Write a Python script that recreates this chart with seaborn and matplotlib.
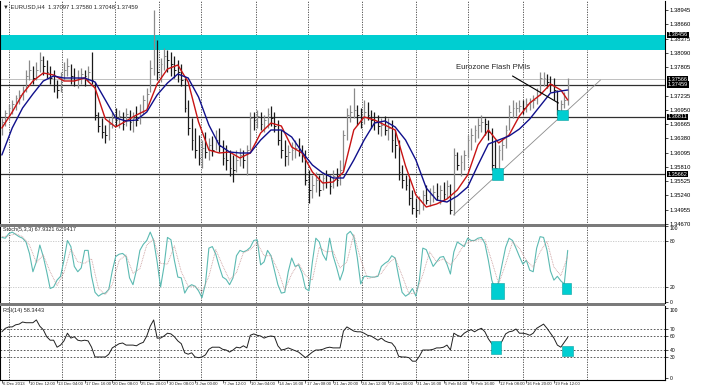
"""
EURUSD H4 chart with two moving averages, Stochastic(5,3,3) and RSI(14),
redrawn from a MetaTrader screenshot.
"""
import numpy as np
import matplotlib
matplotlib.use('Agg')
import matplotlib.pyplot as plt
from matplotlib.patches import Rectangle
import matplotlib.transforms as mtransforms
import seaborn as sns

# --- price bars (one entry per two H4 candles) ---
highs = [
    1.3679, 1.3695, 1.3707, 1.3715, 1.3725, 1.3735, 1.3743, 1.3775, 1.3795, 1.3783,
    1.3791, 1.3811, 1.3803, 1.3795, 1.3783, 1.3775, 1.3755, 1.3771, 1.3791, 1.3799,
    1.3787, 1.3779, 1.3775, 1.3779, 1.3775, 1.3783, 1.3811, 1.3751, 1.3691, 1.3679,
    1.3665, 1.3679, 1.3691, 1.3699, 1.3695, 1.3691, 1.3699, 1.3695, 1.3691, 1.3703,
    1.3707, 1.3725, 1.3739, 1.3795, 1.3895, 1.3835, 1.3799, 1.3819, 1.3815, 1.3811,
    1.3803, 1.3795, 1.3787, 1.3759, 1.3715, 1.3679, 1.3659, 1.3645, 1.3635, 1.3651,
    1.3639, 1.3643, 1.3655, 1.3659, 1.3635, 1.3625, 1.3615, 1.3605, 1.3615, 1.3619,
    1.3615, 1.3625, 1.3691, 1.3691, 1.3695, 1.3691, 1.3685, 1.3699, 1.3703, 1.3691,
    1.3675, 1.3655, 1.3635, 1.3625, 1.3631, 1.3635, 1.3639, 1.3625, 1.3615, 1.3575,
    1.3565, 1.3571, 1.3565, 1.3571, 1.3575, 1.3565, 1.3575, 1.3579, 1.3595, 1.3655,
    1.3699, 1.3705, 1.3739, 1.3705, 1.3699, 1.3715, 1.3711, 1.3695, 1.3691, 1.3685,
    1.3679, 1.3683, 1.3679, 1.3675, 1.3655, 1.3635, 1.3585, 1.3565, 1.3559, 1.3535,
    1.3519, 1.3523, 1.3535, 1.3545, 1.3539, 1.3545, 1.3549, 1.3545, 1.3551, 1.3555,
    1.3547, 1.3619, 1.3611, 1.3605, 1.3615, 1.3645, 1.3659, 1.3665, 1.3679, 1.3685,
    1.3679, 1.3675, 1.3659, 1.3635, 1.3625, 1.3639, 1.3665, 1.3705, 1.3715, 1.3711,
    1.3715, 1.3715, 1.3719, 1.3719, 1.3725, 1.3739, 1.3771, 1.3771, 1.3767, 1.3763,
    1.3759, 1.3735, 1.3715, 1.3731, 1.3758]
lows = [
    1.3645, 1.3663, 1.3675, 1.3687, 1.3695, 1.3707, 1.3715, 1.3731, 1.3755, 1.3747,
    1.3755, 1.3771, 1.3765, 1.3759, 1.3747, 1.3731, 1.3719, 1.3731, 1.3755, 1.3763,
    1.3747, 1.3743, 1.3739, 1.3747, 1.3743, 1.3751, 1.3747, 1.3675, 1.3651, 1.3639,
    1.3629, 1.3635, 1.3659, 1.3663, 1.3659, 1.3655, 1.3663, 1.3655, 1.3651, 1.3663,
    1.3667, 1.3687, 1.3699, 1.3731, 1.3765, 1.3755, 1.3751, 1.3775, 1.3771, 1.3763,
    1.3759, 1.3751, 1.3743, 1.3691, 1.3645, 1.3615, 1.3599, 1.3585, 1.3579, 1.3599,
    1.3595, 1.3603, 1.3615, 1.3611, 1.3585, 1.3575, 1.3563, 1.3551, 1.3571, 1.3583,
    1.3579, 1.3565, 1.3615, 1.3655, 1.3659, 1.3655, 1.3651, 1.3659, 1.3663, 1.3651,
    1.3625, 1.3599, 1.3583, 1.3585, 1.3595, 1.3599, 1.3603, 1.3591, 1.3545, 1.3509,
    1.3519, 1.3531, 1.3523, 1.3535, 1.3539, 1.3527, 1.3539, 1.3543, 1.3545, 1.3575,
    1.3635, 1.3671, 1.3679, 1.3665, 1.3659, 1.3667, 1.3675, 1.3659, 1.3655, 1.3647,
    1.3643, 1.3645, 1.3635, 1.3611, 1.3599, 1.3555, 1.3539, 1.3535, 1.3505, 1.3487,
    1.3481, 1.3487, 1.3495, 1.3507, 1.3503, 1.3511, 1.3515, 1.3507, 1.3515, 1.3519,
    1.3487, 1.3485, 1.3575, 1.3563, 1.3575, 1.3599, 1.3615, 1.3631, 1.3639, 1.3651,
    1.3645, 1.3635, 1.3575, 1.3561, 1.3575, 1.3595, 1.3619, 1.3655, 1.3679, 1.3683,
    1.3691, 1.3687, 1.3691, 1.3695, 1.3699, 1.3707, 1.3725, 1.3743, 1.3739, 1.3731,
    1.3715, 1.3685, 1.3679, 1.3699, 1.3705]
closes = [
    1.3671, 1.3689, 1.3699, 1.3707, 1.3719, 1.3725, 1.3735, 1.3763, 1.3775, 1.3759,
    1.3775, 1.3795, 1.3783, 1.3771, 1.3759, 1.3745, 1.3735, 1.3759, 1.3775, 1.3783,
    1.3763, 1.3755, 1.3759, 1.3767, 1.3763, 1.3771, 1.3755, 1.3685, 1.3663, 1.3651,
    1.3645, 1.3667, 1.3679, 1.3675, 1.3683, 1.3667, 1.3687, 1.3671, 1.3679, 1.3675,
    1.3691, 1.3715, 1.3727, 1.3779, 1.3835, 1.3771, 1.3787, 1.3803, 1.3795, 1.3787,
    1.3775, 1.3771, 1.3755, 1.3699, 1.3659, 1.3635, 1.3615, 1.3599, 1.3619, 1.3611,
    1.3625, 1.3615, 1.3635, 1.3623, 1.3599, 1.3595, 1.3579, 1.3575, 1.3595, 1.3605,
    1.3595, 1.3615, 1.3679, 1.3675, 1.3683, 1.3667, 1.3675, 1.3687, 1.3679, 1.3663,
    1.3635, 1.3615, 1.3603, 1.3611, 1.3615, 1.3619, 1.3611, 1.3605, 1.3555, 1.3535,
    1.3545, 1.3555, 1.3535, 1.3559, 1.3551, 1.3543, 1.3563, 1.3555, 1.3575, 1.3645,
    1.3685, 1.3691, 1.3695, 1.3685, 1.3679, 1.3691, 1.3685, 1.3675, 1.3671, 1.3663,
    1.3665, 1.3655, 1.3659, 1.3635, 1.3625, 1.3571, 1.3555, 1.3545, 1.3519, 1.3499,
    1.3495, 1.3515, 1.3525, 1.3515, 1.3525, 1.3531, 1.3523, 1.3535, 1.3527, 1.3543,
    1.3495, 1.3605, 1.3585, 1.3591, 1.3605, 1.3635, 1.3645, 1.3655, 1.3665, 1.3671,
    1.3667, 1.3651, 1.3585, 1.3579, 1.3615, 1.3625, 1.3655, 1.3691, 1.3699, 1.3699,
    1.3703, 1.3699, 1.3707, 1.3711, 1.3715, 1.3725, 1.3759, 1.3759, 1.3751, 1.3747,
    1.3735, 1.3695, 1.3707, 1.3715, 1.37459]

# moving averages, read every third bar
ma_bars = list(range(0, 163, 3)) + [164]
ma_fast = [
    1.3659, 1.3691, 1.3727, 1.3753, 1.3769, 1.3765, 1.3753, 1.3753, 1.3759, 1.3739,
    1.3677, 1.3661, 1.3673, 1.3685, 1.3695, 1.3747, 1.3777, 1.3785, 1.3751, 1.3671,
    1.3615, 1.3609, 1.3611, 1.3599, 1.3609, 1.3649, 1.3669, 1.3663, 1.3621, 1.3609,
    1.3571, 1.3549, 1.3551, 1.3571, 1.3655, 1.3681, 1.3675, 1.3665, 1.3655, 1.3583,
    1.3525, 1.3501, 1.3507, 1.3517, 1.3535, 1.3565, 1.3625, 1.3655, 1.3629, 1.3645,
    1.3683, 1.3709, 1.3725, 1.3747, 1.3735, 1.3715]
ma_slow = [
    1.3605, 1.3659, 1.3699, 1.3727, 1.3753, 1.3763, 1.3759, 1.3759, 1.3759, 1.3751,
    1.3715, 1.3679, 1.3673, 1.3675, 1.3691, 1.3725, 1.3749, 1.3767, 1.3759, 1.3721,
    1.3665, 1.3625, 1.3611, 1.3609, 1.3609, 1.3635, 1.3655, 1.3655, 1.3641, 1.3611,
    1.3585, 1.3569, 1.3559, 1.3559, 1.3595, 1.3635, 1.3669, 1.3673, 1.3661, 1.3635,
    1.3595, 1.3539, 1.3515, 1.3511, 1.3523, 1.3541, 1.3585, 1.3627, 1.3635, 1.3643,
    1.3657, 1.3677, 1.3703, 1.3729, 1.3733, 1.3735]

# stochastic: main line every bar, signal line every second bar
stoch_main = [
    85, 84, 90, 92, 89, 86, 84, 79, 64, 40, 53, 75, 60, 40, 18, 20, 29, 34, 55, 81,
    73, 47, 40, 45, 68, 68, 34, 13, 8, 11, 12, 17, 41, 60, 63, 64, 60, 32, 23, 42,
    68, 76, 81, 92, 81, 53, 20, 47, 85, 82, 55, 33, 32, 12, 20, 23, 21, 15, 6, 24,
    71, 73, 63, 47, 33, 30, 23, 32, 61, 68, 66, 68, 72, 81, 82, 49, 53, 68, 61, 42,
    23, 12, 13, 40, 58, 47, 49, 38, 18, 15, 53, 84, 79, 63, 55, 84, 61, 46, 29, 42,
    89, 93, 86, 59, 24, 34, 34, 33, 33, 34, 47, 51, 54, 61, 58, 34, 13, 8, 11, 18,
    8, 29, 71, 69, 58, 47, 53, 59, 60, 50, 37, 66, 79, 76, 73, 84, 81, 81, 84, 85,
    77, 55, 29, 16, 27, 50, 72, 84, 81, 71, 60, 50, 55, 42, 40, 71, 86, 85, 68, 41,
    29, 34, 28, 24, 68]
signal_bars = list(range(0, 165, 2))
stoch_signal = [
    86, 87, 90, 86, 75, 52, 62, 40, 22, 39, 70, 53, 51, 57, 18, 10, 23, 55, 62, 38,
    44, 75, 83, 51, 50, 74, 40, 21, 21, 14, 34, 69, 48, 29, 39, 65, 69, 78, 61, 61,
    42, 16, 37, 51, 35, 29, 72, 66, 67, 45, 53, 89, 56, 31, 33, 38, 51, 58, 35, 11,
    12, 36, 66, 53, 57, 49, 61, 76, 80, 82, 82, 54, 24, 50, 79, 71, 55, 46, 66, 80,
    46, 35, 60]

rsi = [
    66, 71, 73, 73, 76, 77, 80, 79, 79, 79, 83, 74, 69, 59, 54, 54, 44, 47, 53, 64,
    57, 59, 54, 53, 54, 53, 44, 30, 30, 30, 30, 34, 43, 46, 49, 50, 47, 47, 47, 46,
    49, 51, 60, 74, 83, 57, 57, 60, 64, 63, 59, 53, 49, 36, 34, 36, 30, 29, 30, 33,
    41, 44, 44, 44, 41, 40, 37, 40, 44, 43, 46, 43, 61, 63, 61, 60, 57, 59, 60, 59,
    46, 40, 41, 43, 41, 39, 37, 33, 29, 33, 37, 40, 40, 41, 43, 44, 43, 43, 43, 67,
    73, 70, 67, 66, 66, 64, 61, 60, 57, 54, 57, 53, 51, 50, 44, 31, 30, 30, 29, 24,
    24, 31, 40, 40, 40, 41, 43, 43, 44, 47, 40, 64, 61, 59, 64, 67, 69, 66, 69, 71,
    66, 56, 49, 40, 44, 53, 63, 66, 67, 70, 64, 64, 63, 61, 64, 71, 74, 77, 71, 64,
    57, 47, 44, 51, 58]

# time axis
time_labels = ['6 Dec 2013', '10 Dec 12:00', '13 Dec 04:00', '17 Dec 16:00',
               '20 Dec 08:00', '25 Dec 20:00', '30 Dec 08:00', '3 Jan 00:00',
               '7 Jan 12:00', '10 Jan 04:00', '14 Jan 16:00', '17 Jan 08:00',
               '21 Jan 20:00', '24 Jan 12:00', '29 Jan 00:00', '31 Jan 16:00',
               '5 Feb 04:00', '9 Feb 16:00', '12 Feb 08:00', '16 Feb 20:00',
               '19 Feb 12:00']
label_bars = list(range(0, 161, 8))
week_bars = [2.2, 17.5, 32.9, 45.4, 57.8, 73.8, 88.8, 104.5, 120.1, 135.2, 150.9, 169.7]

# drawn objects
price_ticks = [1.38945, 1.38660, 1.38375, 1.38090, 1.37805, 1.37235, 1.36950,
               1.36665, 1.36380, 1.36095, 1.35810, 1.35525, 1.35240, 1.34955, 1.34670]
marked_prices = [1.38456, 1.37566, 1.37459, 1.36811, 1.35662]
level_lines = [1.37459, 1.36811, 1.35662]
zone_low, zone_high = 1.3815, 1.38456
trend_bars, trend_prices = [130.9, 173.5], [1.3485, 1.3755]
note_bar, note_price = 131.7, 1.3779
arrow_bars, arrow_prices = [148.0, 161.3], [1.3763, 1.3709]
price_boxes = [(161.0, 1.3675, 3.2, 0.0020), (142.2, 1.3555, 3.0, 0.0023)]
stoch_boxes = [(141.9, 4.5, 3.5, 21), (162.2, 10.8, 2.7, 14.4)]
rsi_boxes = [(141.9, 34.3, 2.9, 18.6), (162.2, 31.4, 3.2, 14.3)]

assert len(highs) == len(lows) == len(closes) == len(stoch_main) == len(rsi)
assert len(ma_bars) == len(ma_fast) == len(ma_slow)
assert len(signal_bars) == len(stoch_signal)

# --- figure ---
sns.set_style('white')
plt.rcParams['font.family'] = ['Liberation Sans', 'DejaVu Sans']
W, H = 720, 388
fig = plt.figure(figsize=(W / 100, H / 100), dpi=100)
fig.patch.set_facecolor('white')
axw = 665 / W


def panel(top, bottom):
    return fig.add_axes([0.0005, (H - bottom) / H, axw, (bottom - top) / H])


ax = panel(1, 225)
ax_st = panel(226, 303)
ax_rsi = panel(306, 380)
xlim = (-0.435, 192.3)
grid_kw = dict(color='#404040', lw=0.6, ls=(0, (1.5, 1.5)), zorder=0)

for a in (ax, ax_st, ax_rsi):
    a.set_xlim(*xlim)
    for b in week_bars:
        a.axvline(b, **grid_kw)
    a.yaxis.tick_right()
    a.tick_params(axis='y', labelsize=4.2, length=2, width=0.5, pad=1, colors='black')
    a.tick_params(axis='x', bottom=False, labelbottom=False)
    for s in ('top', 'bottom'):
        a.spines[s].set_visible(False)
    for s in ('left', 'right'):
        a.spines[s].set_color('black')
        a.spines[s].set_linewidth(0.8)
for a in (ax_st, ax_rsi):
    a.tick_params(axis='y', labelsize=3.6)

# main price panel
bars = np.arange(len(closes))
hi, lo, cl = np.array(highs), np.array(lows), np.array(closes)
up = np.r_[True, np.diff(cl) >= 0]
bar_cols = np.where(up, '#8a8a8a', '#1a1a1a')
ax.axhspan(zone_low, zone_high, color='#00CED1', lw=0, zorder=1)
ax.axhline(1.37566, color='#b4b4b4', lw=0.6, zorder=1)
for p in level_lines:
    ax.axhline(p, color='#303030', lw=0.9, zorder=1)
ax.vlines(bars, lo, hi, colors=bar_cols, lw=0.9, zorder=2)
ax.hlines(cl, bars, bars + 0.5, colors=bar_cols, lw=0.7, zorder=2)
sns.lineplot(x=ma_bars, y=ma_fast, ax=ax, color='#c81414', lw=1.0, zorder=3)
sns.lineplot(x=ma_bars, y=ma_slow, ax=ax, color='#10108c', lw=1.0, zorder=3)
ax.plot(trend_bars, trend_prices, color='#8c8c8c', lw=0.6, zorder=3)
ax.plot(arrow_bars, arrow_prices, color='black', lw=0.8, zorder=4)
ax.text(note_bar, note_price, 'Eurozone Flash PMIs', fontsize=5.6, ha='left',
        va='center', zorder=5)
for x0, y0, w, h in price_boxes:
    ax.add_patch(Rectangle((x0, y0), w, h, facecolor='#00CED1', edgecolor='#0aa0a0',
                           lw=0.4, zorder=4))
ax.set_ylim(1.3465, 1.3913)
ax.set_yticks(price_ticks)
ax.set_yticklabels([f'{p:.5f}' for p in price_ticks])
ax.set_xlabel('')
ax.set_ylabel('')
trans = mtransforms.blended_transform_factory(ax.transAxes, ax.transData)
for p in marked_prices:
    ax.text(1.004, p, f'{p:.5f}', transform=trans, fontsize=4.0, color='white',
            ha='left', va='center', zorder=6,
            bbox=dict(facecolor='black', edgecolor='none', pad=0.4))
ax.text(0.004, 0.985, '\u25bc EURUSD,H4  1.37097 1.37580 1.37048 1.37459',
        transform=ax.transAxes, fontsize=4.2, ha='left', va='top')

# stochastic panel
for lv in (80, 20):
    ax_st.axhline(lv, color='#c4c4c4', lw=0.6, ls=(0, (1.5, 1.5)), zorder=0)
sns.lineplot(x=bars, y=stoch_main, ax=ax_st, color='#5cbab2', lw=0.8, zorder=3)
sns.lineplot(x=signal_bars, y=stoch_signal, ax=ax_st, color='#c99a9a', lw=0.6,
             ls=(0, (1, 1)), zorder=3)
for x0, y0, w, h in stoch_boxes:
    ax_st.add_patch(Rectangle((x0, y0), w, h, facecolor='#00CED1', edgecolor='#0aa0a0',
                              lw=0.4, zorder=4))
ax_st.set_ylim(-1, 100)
ax_st.set_yticks([0, 20, 80, 100])
ax_st.get_yticklabels()[-1].set_va('top')
ax_st.set_xlabel('')
ax_st.set_ylabel('')
ax_st.text(0.004, 0.985, 'Stoch(5,3,3) 67.9321 62.9417', transform=ax_st.transAxes,
           fontsize=4.0, ha='left', va='top')

# RSI panel
for lv in (70, 60, 40, 30):
    ax_rsi.axhline(lv, color='#404040', lw=0.6, ls=(0, (2, 2)), zorder=0)
sns.lineplot(x=bars, y=rsi, ax=ax_rsi, color='#202020', lw=0.7, zorder=3)
for x0, y0, w, h in rsi_boxes:
    ax_rsi.add_patch(Rectangle((x0, y0), w, h, facecolor='#00CED1', edgecolor='#0aa0a0',
                               lw=0.4, zorder=4))
ax_rsi.set_ylim(-2.9, 102.9)
ax_rsi.set_yticks([0, 30, 40, 60, 70, 100])
ax_rsi.get_yticklabels()[-1].set_va('top')
ax_rsi.set_xlabel('')
ax_rsi.set_ylabel('')
ax_rsi.spines['bottom'].set_visible(True)
ax_rsi.spines['bottom'].set_color('black')
ax_rsi.spines['bottom'].set_linewidth(0.8)
ax_rsi.set_xticks(label_bars)
ax_rsi.tick_params(axis='x', bottom=True, labelbottom=False, length=2, width=0.5,
                   direction='out')
time_trans = mtransforms.blended_transform_factory(ax_rsi.transData, ax_rsi.transAxes)
for b, lab in zip(label_bars, time_labels):
    ax_rsi.text(b + 0.3, -0.025, lab, transform=time_trans, fontsize=3.1,
                ha='left', va='top')
ax_rsi.text(0.004, 0.975, 'RSI(14) 58.3443', transform=ax_rsi.transAxes,
            fontsize=4.0, ha='left', va='top')

# thick grey separators between the panels
for y0, y1 in ((224, 227), (303, 306)):
    fig.add_artist(Rectangle((0, (H - y1) / H), axw, (y1 - y0) / H,
                             transform=fig.transFigure, color='#7a7a7a', lw=0))

plt.savefig('out.png', dpi=100)
plt.close()
print("Saved: out.png")
